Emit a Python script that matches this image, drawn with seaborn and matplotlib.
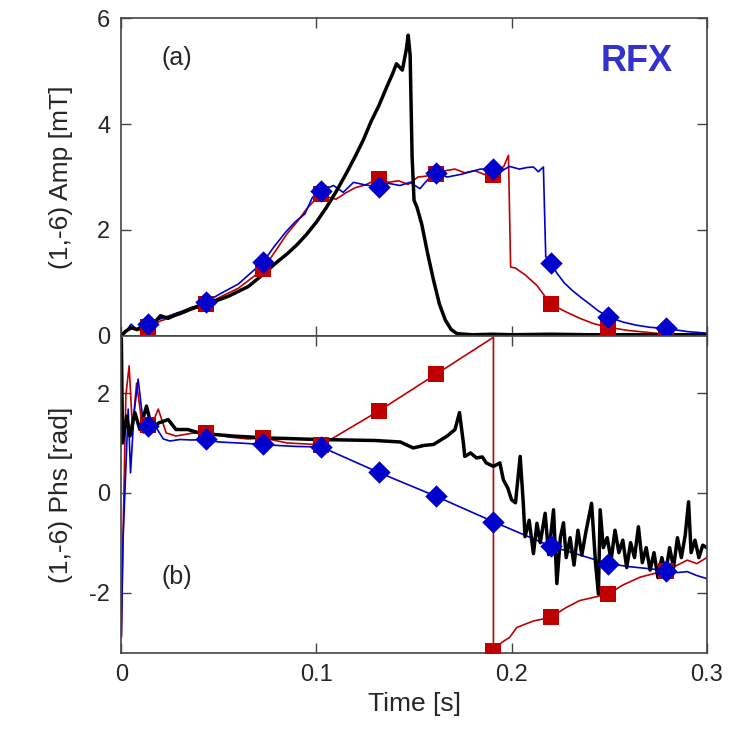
import numpy as np
import pandas as pd
import matplotlib
matplotlib.use("Agg")
import matplotlib.pyplot as plt
import seaborn as sns

# marker positions (shared by red and blue traces)
mk_t = [0.0138, 0.0435, 0.0728, 0.1025, 0.1318, 0.1613, 0.1907, 0.2200, 0.2495, 0.2790]
red_amp_mk = [0.16, 0.60, 1.26, 2.68, 2.97, 3.06, 3.03, 0.60, 0.16, 0.03]
blue_amp_mk = [0.23, 0.64, 1.40, 2.74, 2.82, 3.08, 3.15, 1.37, 0.36, 0.14]
red_phs_mk = [1.36, 1.20, 1.10, 0.96, 1.64, 2.38, -3.17, -2.50, -2.03, -1.56]
blue_phs_mk = [1.34, 1.07, 0.97, 0.92, 0.41, -0.07, -0.58, -1.07, -1.42, -1.56]

# (a) amplitude
black_amp_t = [0, 0.002, 0.005, 0.008, 0.011, 0.014, 0.017, 0.020, 0.024, 0.028, 0.032, 0.036,
               0.040, 0.045, 0.050, 0.055, 0.060, 0.065, 0.070, 0.075, 0.080, 0.085, 0.090,
               0.095, 0.100, 0.105, 0.110, 0.115, 0.120, 0.124, 0.128, 0.132, 0.136, 0.139,
               0.141, 0.1425, 0.144, 0.146, 0.147, 0.148, 0.149, 0.150, 0.1515, 0.154, 0.157,
               0.160, 0.163, 0.166, 0.169, 0.172, 0.18, 0.19, 0.20, 0.22, 0.24, 0.26, 0.28, 0.30]
black_amp = [0.0, 0.08, 0.15, 0.12, 0.18, 0.20, 0.25, 0.38, 0.33, 0.40, 0.45, 0.52,
             0.55, 0.62, 0.68, 0.75, 0.84, 0.93, 1.08, 1.24, 1.40, 1.55, 1.72,
             1.92, 2.15, 2.42, 2.72, 3.05, 3.40, 3.70, 4.05, 4.35, 4.70, 4.95,
             5.14, 5.08, 5.02, 5.40, 5.68, 5.30, 3.40, 2.56, 2.43, 2.10, 1.55,
             1.05, 0.60, 0.30, 0.12, 0.04, 0.02, 0.03, 0.02, 0.03, 0.02, 0.02, 0.02, 0.02]

red_amp_t = [0, 0.003, 0.005, 0.008, 0.0138, 0.02, 0.03, 0.0435, 0.05, 0.06, 0.0728, 0.078,
             0.085, 0.09, 0.095, 0.1, 0.1025, 0.106, 0.110, 0.115, 0.120, 0.125, 0.1318,
             0.137, 0.142, 0.147, 0.152, 0.157, 0.1613, 0.166, 0.171, 0.176, 0.181, 0.186,
             0.1907, 0.194, 0.196, 0.1984, 0.1995, 0.202, 0.207, 0.213, 0.2200, 0.228,
             0.235, 0.242, 0.2495, 0.26, 0.2790, 0.29, 0.30]
red_amp = [0, 0.10, 0.18, 0.10, 0.16, 0.28, 0.40, 0.60, 0.72, 0.90, 1.26, 1.55,
           1.93, 2.15, 2.40, 2.60, 2.68, 2.62, 2.58, 2.70, 2.80, 2.85, 2.97,
           2.90, 2.93, 2.86, 3.00, 3.02, 3.06, 3.12, 3.15, 3.08, 3.12, 3.05,
           3.03, 3.15, 3.20, 3.41, 1.30, 1.28, 1.15, 0.95, 0.60, 0.45,
           0.33, 0.23, 0.16, 0.10, 0.03, 0.02, 0.01]

blue_amp_t = [0, 0.003, 0.005, 0.008, 0.0138, 0.02, 0.03, 0.0435, 0.05, 0.06, 0.0728, 0.078,
              0.084, 0.089, 0.094, 0.098, 0.1025, 0.1087, 0.1137, 0.119, 0.125, 0.1318, 0.137,
              0.1428, 0.148, 0.153, 0.157, 0.1613, 0.167, 0.174, 0.179, 0.184, 0.1907, 0.195,
              0.199, 0.204, 0.208, 0.2112, 0.2137, 0.2163, 0.2175, 0.2200, 0.2235, 0.227,
              0.231, 0.235, 0.240, 0.2445, 0.2495, 0.257, 0.264, 0.271, 0.2790, 0.29, 0.30]
blue_amp = [0, 0.12, 0.22, 0.12, 0.23, 0.32, 0.45, 0.64, 0.78, 0.98, 1.40, 1.67,
            1.95, 2.15, 2.30, 2.62, 2.74, 2.84, 2.71, 2.90, 2.85, 2.82, 2.88,
            2.84, 2.90, 2.78, 2.95, 3.08, 3.00, 3.05, 3.10, 3.15, 3.15, 3.12,
            3.20, 3.15, 3.18, 3.19, 3.10, 3.19, 1.50, 1.37, 1.17, 1.00,
            0.86, 0.74, 0.60, 0.47, 0.36, 0.26, 0.20, 0.16, 0.14, 0.08, 0.05]

# (b) phase
black_phs_t = [0, 0.0006, 0.0027, 0.0044, 0.0069, 0.0095, 0.0129, 0.0158, 0.019, 0.024, 0.028,
               0.034, 0.040, 0.048, 0.057, 0.066, 0.0745, 0.085, 0.1, 0.115, 0.13, 0.143,
               0.1496, 0.155, 0.16, 0.167, 0.171, 0.1733, 0.1753, 0.176, 0.179, 0.182, 0.185,
               0.187, 0.1907, 0.194, 0.1958, 0.198, 0.200, 0.202, 0.2044, 0.206, 0.2069,
               0.209, 0.2112, 0.213, 0.2147, 0.2172, 0.219, 0.2215, 0.2232, 0.225, 0.2266,
               0.228, 0.230, 0.232, 0.234, 0.236, 0.238, 0.241, 0.243, 0.2445, 0.2454,
               0.247, 0.249, 0.251, 0.253, 0.255, 0.257, 0.259, 0.261, 0.263, 0.265, 0.267,
               0.269, 0.271, 0.273, 0.275, 0.277, 0.279, 0.281, 0.283, 0.285, 0.287, 0.289,
               0.2907, 0.292, 0.294, 0.296, 0.298, 0.30]
black_phs = [3.10, 1.00, 1.54, 1.14, 1.61, 1.27, 1.74, 1.27, 1.40, 1.47, 1.27,
             1.27, 1.20, 1.17, 1.14, 1.12, 1.10, 1.09, 1.07, 1.06, 1.05, 1.02,
             0.90, 0.95, 0.97, 1.14, 1.27, 1.61, 1.00, 0.73, 0.80, 0.70, 0.72,
             0.60, 0.53, 0.60, 0.26, 0.10, -0.14, -0.20, 0.73, -0.21, -0.88,
             -0.55, -1.22, -0.61, -1.00, -0.41, -1.24, -0.34, -1.82, -0.90, -0.60,
             -1.30, -0.90, -1.45, -0.75, -1.25, -0.80, -0.21, -1.40, -2.03, -0.34,
             -1.10, -0.90, -1.35, -0.75, -1.20, -0.95, -1.50, -1.00, -1.30, -0.68, -1.40,
             -1.10, -1.55, -1.20, -1.70, -1.30, -1.60, -1.10, -1.50, -0.90, -1.30, -0.85,
             -0.18, -1.20, -0.95, -1.30, -1.05, -1.10]

red_phs_t = [0, 0.0008, 0.0023, 0.004, 0.0057, 0.0078, 0.0112, 0.0138, 0.0165, 0.0189, 0.023,
             0.028, 0.0368, 0.0435, 0.055, 0.065, 0.0728, 0.085, 0.095, 0.1025, 0.1318,
             0.1613, 0.1907, 0.1907, 0.195, 0.199, 0.2027, 0.2112, 0.2200, 0.228, 0.235,
             0.2495, 0.257, 0.266, 0.2790, 0.285, 0.29, 0.295, 0.30]
red_phs = [-2.90, -1.00, 1.95, 2.55, 1.27, 2.20, 1.20, 1.36, 1.45, 1.68, 1.20,
           1.14, 1.20, 1.20, 1.12, 1.08, 1.10, 1.00, 0.98, 0.96, 1.64,
           2.38, 3.12, -3.17, -3.00, -2.90, -2.70, -2.57, -2.50, -2.30, -2.16,
           -2.03, -1.85, -1.69, -1.56, -1.45, -1.35, -1.42, -1.30]

blue_phs_t = [0, 0.0008, 0.0035, 0.0047, 0.0065, 0.0086, 0.0112, 0.0143, 0.018, 0.0215, 0.0249,
              0.030, 0.036, 0.0435, 0.05, 0.06, 0.0728, 0.08, 0.09, 0.1025, 0.1318, 0.1613,
              0.1907, 0.2200, 0.2495, 0.26, 0.27, 0.2790, 0.285, 0.29, 0.295, 0.30]
blue_phs = [-2.87, -1.00, 1.68, 0.40, 1.60, 2.28, 1.41, 1.34, 1.30, 1.08, 1.04,
            1.07, 1.06, 1.07, 1.02, 1.00, 0.97, 0.95, 0.93, 0.92, 0.41, -0.07,
            -0.58, -1.07, -1.42, -1.48, -1.52, -1.56, -1.60, -1.58, -1.66, -1.72]

RED = "#c00000"
BLUE = "#0000cc"

sns.set_style("white")
plt.rcParams['font.family'] = ['Liberation Sans', 'DejaVu Sans']
plt.rcParams['axes.unicode_minus'] = False

fig, axes = plt.subplots(2, 1, figsize=(7.4, 7.3), dpi=100, sharex=True)
fig.subplots_adjust(left=0.164, right=0.955, top=0.975, bottom=0.105, hspace=0)

panels = [
    (axes[0], black_amp_t, black_amp, red_amp_t, red_amp, blue_amp_t, blue_amp, red_amp_mk, blue_amp_mk),
    (axes[1], black_phs_t, black_phs, red_phs_t, red_phs, blue_phs_t, blue_phs, red_phs_mk, blue_phs_mk),
]

for ax, bt, bv, rt, rv, ut, uv, rmk, umk in panels:
    sns.lineplot(ax=ax, x=rt, y=rv, sort=False, estimator=None, color=RED, lw=1.2)
    sns.lineplot(ax=ax, x=ut, y=uv, sort=False, estimator=None, color=BLUE, lw=1.2)
    sns.lineplot(ax=ax, x=bt, y=bv, sort=False, estimator=None, color="black", lw=2.5)
    sns.scatterplot(ax=ax, x=mk_t, y=rmk, marker="s", s=125, color=RED, edgecolor=RED, linewidth=0, zorder=5)
    sns.scatterplot(ax=ax, x=mk_t, y=umk, marker="D", s=130, color=BLUE, edgecolor=BLUE, linewidth=0, zorder=6)
    for sp in ax.spines.values():
        sp.set_color("#444444")
        sp.set_linewidth(1.2)
    ax.tick_params(direction="in", length=7, width=1.0, color="#444444",
                   top=True, right=True, bottom=True, left=True, labelsize=17, pad=8)

axes[0].set_xlim(0, 0.3)
axes[0].set_ylim(0, 6)
axes[0].set_yticks([0, 2, 4, 6])
axes[1].set_ylim(-3.22, 3.15)
axes[1].set_yticks([-2, 0, 2])
axes[1].set_xticks([0, 0.1, 0.2, 0.3])
axes[1].set_xticklabels(["0", "0.1", "0.2", "0.3"])

axes[0].set_ylabel("(1,-6) Amp [mT]", fontsize=19, labelpad=17)
axes[1].set_ylabel("(1,-6) Phs [rad]", fontsize=19, labelpad=12)
axes[1].set_xlabel("Time [s]", fontsize=19, labelpad=4)

axes[0].text(0.069, 0.875, "(a)", transform=axes[0].transAxes, fontsize=18, va="center", ha="left")
axes[1].text(0.069, 0.24, "(b)", transform=axes[1].transAxes, fontsize=18, va="center", ha="left")
axes[0].text(0.881, 0.865, "RFX", transform=axes[0].transAxes, fontsize=26, fontweight="bold",
             color="#3333cc", va="center", ha="center")

plt.savefig("out.png", dpi=100)
